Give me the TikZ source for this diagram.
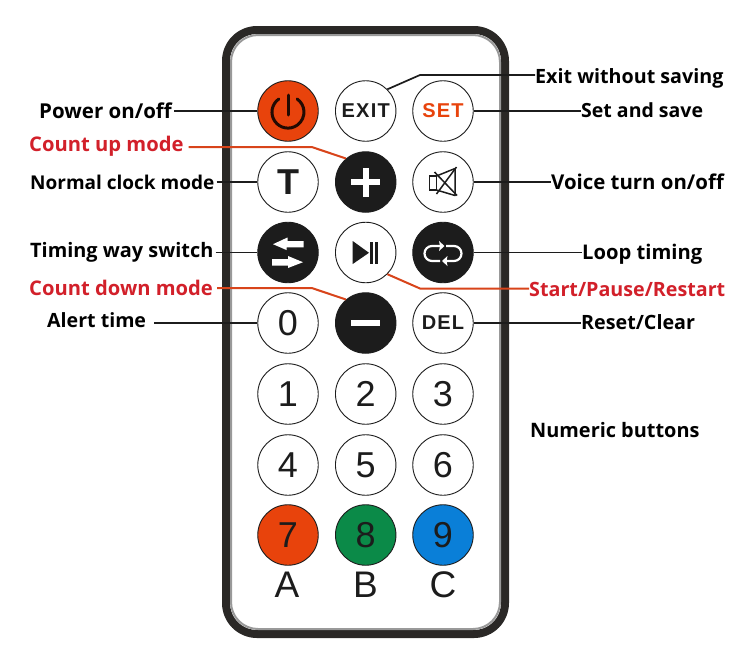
\documentclass[tikz,border=0pt]{standalone}
\usepackage{fontspec}
\setmainfont{Open Sans}
\newfontfamily\btnfont{Liberation Sans}
\newfontfamily\btnwide[LetterSpace=6]{Liberation Sans}
\definecolor{bodydark}{HTML}{2A2826}
\definecolor{pwrred}{HTML}{E8430C}
\definecolor{grn}{HTML}{0B8A48}
\definecolor{blu}{HTML}{0A7FD8}
\definecolor{lblred}{HTML}{D2202A}
\definecolor{linered}{HTML}{D8441A}
\definecolor{ink}{HTML}{1C1C1C}
\tikzset{
  btn/.style={circle,draw=ink,line width=0.9pt,fill=white,minimum size=60.5pt,inner sep=0pt,text=ink},
  darkbtn/.style={btn,fill=ink},
  digit/.style={font=\btnfont\fontsize{36}{36}\selectfont},
  word/.style={font=\btnwide\bfseries\fontsize{20}{20}\selectfont},
  lbl/.style={anchor=west,inner sep=0pt,text=black,font=\bfseries\fontsize{#1}{20}\selectfont},
  redlbl/.style={lbl=#1,text=lblred},
  leader/.style={draw=ink,line width=1.7pt},
  redleader/.style={draw=linered,line width=2pt},
  letter/.style={font=\btnfont\fontsize{37}{37}\selectfont,text=ink,inner sep=0pt},
}
\begin{document}
\begin{tikzpicture}[x=1pt,y=-1pt]
\useasboundingbox (0,0) rectangle (753,662);
% body
\draw[line width=8pt,draw=bodydark,fill=white,rounded corners=31pt] (226,30) rectangle (505,634);
\draw[line width=2pt,draw=gray!80,rounded corners=27pt] (231,35) rectangle (500,629);
% buttons
\node[btn,fill=pwrred] (power) at (288,111) {};
\node[btn,word] (exit) at (365.7,111) {EXIT};
\node[btn,word,text=pwrred] (set) at (443,111) {SET};
\node[btn,font=\btnfont\bfseries\fontsize{36}{36}\selectfont] (tbtn) at (288,182) {T};
\node[darkbtn] (plus) at (365.7,182) {};
\node[btn] (mute) at (443,182) {};
\node[darkbtn] (swap) at (288,252.5) {};
\node[btn] (play) at (365.7,252.5) {};
\node[darkbtn] (loop) at (443,252.5) {};
\node[btn,digit] (d0) at (288,323) {0};
\node[darkbtn] (minus) at (365.7,323) {};
\node[btn,word] (del) at (443,323) {DEL};
\node[btn,digit] (d1) at (288,394) {1};
\node[btn,digit] (d2) at (365.7,394) {2};
\node[btn,digit] (d3) at (443,394) {3};
\node[btn,digit] (d4) at (288,465) {4};
\node[btn,digit] (d5) at (365.7,465) {5};
\node[btn,digit] (d6) at (443,465) {6};
\node[btn,digit,fill=pwrred] (d7) at (288,535) {7};
\node[btn,digit,fill=grn] (d8) at (365.7,535) {8};
\node[btn,digit,fill=blu] (d9) at (443,535) {9};
\node[letter] (la) at (287,585) {A};
\node[letter] (lb) at (365.5,585) {B};
\node[letter] (lc) at (443,585) {C};
% icons
\begin{scope}[shift={(power.center)}]
  \draw[draw=black!85!pwrred,line width=3pt,line cap=round] (0,-16) -- (0,4);
  \draw[draw=black!85!pwrred,line width=3pt,line cap=round] (-9.2,-12) arc[start angle=125,end angle=415,radius=16pt];
\end{scope}
\begin{scope}[shift={(plus.center)}]
  \fill[white] (-14.5,-3.2) rectangle (14.5,3.2);
  \fill[white] (-3.2,-14.5) rectangle (3.2,14.5);
\end{scope}
\begin{scope}[shift={(minus.center)}]
  \fill[white] (-14.3,-3.3) rectangle (14.3,3.3);
\end{scope}
\begin{scope}[shift={(mute.center)},line width=1.5pt]
  \draw[draw=ink] (-13.5,-6) rectangle (-6.5,8);
  \draw[draw=ink,line join=round] (-6.5,-6) -- (12,-13.5) -- (12,13.5) -- (-6.5,8);
  \draw[draw=ink] (-8.5,-10) -- (14,13.5);
  \draw[draw=ink] (-6.5,12) -- (13.5,-15);
\end{scope}
\begin{scope}[shift={(swap.center)}]
  \fill[white] (15.7,-11.5) -- (-0.5,-11.5) -- (-0.5,-15) -- (-15,-8.3) -- (-1.5,-2.5) -- (-1.5,-5.2) -- (15.7,-5.2) -- cycle;
  \fill[white] (-16,6.7) -- (0,6.7) -- (0,3.5) -- (15,9.7) -- (0,15.5) -- (0,13) -- (-16,13) -- cycle;
\end{scope}
\begin{scope}[shift={(play.center)}]
  \fill[ink] (-13,-11.5) -- (3.3,0.3) -- (-13,11.5) -- cycle;
  \fill[ink] (4.3,-11) rectangle (7,11.3);
  \fill[ink] (9.3,-11) rectangle (12.7,11.3);
\end{scope}
\begin{scope}[shift={(loop.center)}]
  \draw[draw=white,line width=2.2pt] (-1,-6.5) -- (-11,-6.5) arc[start angle=90,end angle=270,radius=7.5pt] -- (-3,8.5);
  \fill[white] (-4,-11.5) -- (1.5,-6.5) -- (-4,-1.5) -- (-3,-6.5) -- cycle;
  \draw[draw=white,line width=2.2pt] (1,8.5) -- (11,8.5) arc[start angle=-90,end angle=90,radius=7.5pt] -- (3,-6.5);
  \fill[white] (4.5,3.5) -- (-1,8.5) -- (4.5,13.5) -- (3.5,8.5) -- cycle;
\end{scope}
% labels
\node[lbl=20.5] (tpower) at (39,111) {Power on/off};
\node[redlbl=20.2] (tup) at (29,146.5) {Count up mode};
\node[lbl=19] (tnorm) at (30,182) {Normal clock mode};
\node[lbl=19.9] (ttim) at (30,252) {Timing way switch};
\node[redlbl=20.2] (tdown) at (29,288) {Count down mode};
\node[lbl=19.6] (talert) at (47,320) {Alert time};
\node[lbl=19.7] (texit) at (535,78) {Exit without saving};
\node[lbl=19.5] (tset) at (581,110) {Set and save};
\node[lbl=20.4] (tvoice) at (551,182) {Voice turn on/off};
\node[lbl=20.2] (tloop) at (582,254) {Loop timing};
\node[redlbl=19.7] (tstart) at (529,289) {Start/Pause/Restart};
\node[lbl=19.7] (treset) at (581,322) {Reset/Clear};
\node[lbl=19.9] (tnum) at (530,430) {Numeric buttons};
% connectors
\coordinate (upa) at (311.7,147);
\coordinate (downa) at (311.7,288);
\coordinate (exa) at (420,75);
\coordinate (sta) at (420,288.5);
\draw[leader] (tpower.east |- power.west) ++(2,0) -- (power.west);
\draw[leader] (tnorm.east |- tbtn.west) ++(2,0) -- (tbtn.west);
\draw[leader] (ttim.east |- swap.west) ++(2,0) -- (swap.west);
\draw[leader] (talert.east |- d0.west) ++(8,0) -- (d0.west);
\draw[leader] (set.east) -- (tset.west |- set.east);
\draw[leader] (mute.east) -- (tvoice.west |- mute.east);
\draw[leader] (loop.east) -- (tloop.west |- loop.east);
\draw[leader] (del.east) -- (treset.west |- del.east);
\draw[leader] (exit.45) -- (exa) -- (texit.west |- exa);
\draw[redleader] (tup.east |- upa) ++(5,0) -- (upa) -- (plus.130);
\draw[redleader] (tdown.east |- downa) ++(4,0) -- (downa) -- (minus.130);
\draw[redleader] (play.-45) -- (sta) -- (tstart.west |- sta);
\end{tikzpicture}
\end{document}
